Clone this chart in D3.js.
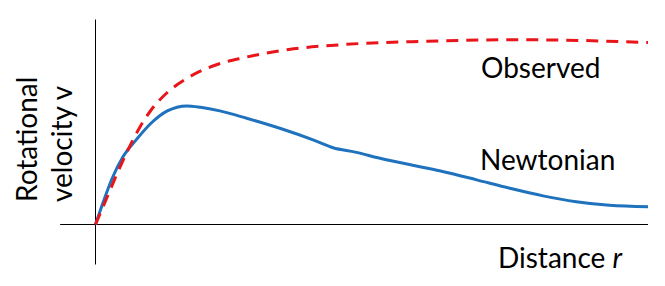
<!DOCTYPE html>
<html>
<head>
<meta charset="utf-8">
<script src="https://cdn.jsdelivr.net/npm/d3@7"></script>
<style>
  body { margin: 0; background: #fff; }
  svg { display: block; }
  text { font-family: Lato, "Open Sans", sans-serif; fill: #000; }
</style>
</head>
<body>
<div id="canvas"></div>
<script>
"use strict";

/* Data: distance r (0..100) and velocity v (0..100) */
let observedR = [0, 2, 4, 6, 8, 10, 13, 16.5, 21, 27, 35, 45, 60, 75, 88, 100];
let observedV = [0, 13, 26, 38, 48.5, 57, 66, 73, 79, 83.5, 87.5, 90, 91.6, 92.4, 92, 91];

let newtonR = [0, 1.5, 3, 5, 7.5, 10, 13, 16.5, 19, 22.5, 27.5, 33.5, 39.5, 43, 47, 51.5, 58.5, 63, 69, 75, 81, 87, 93, 100];
let newtonV = [0, 12, 23, 34, 42.8, 50.5, 56.8, 59.3, 58.6, 56.8, 53, 48, 42.2, 38.4, 36.2, 33.1, 29, 26.4, 22.3, 18.1, 14.3, 11.4, 9.6, 8.9];

let seriesLabels = ["Observed", "Newtonian"];
let axisLabelX = "Distance ";
let axisLabelXVar = "r";
let axisLabelY = ["Rotational", "velocity v"];

/* Drawing config */
let svgWidth = 665;
let svgHeight = 286;

let svg = d3.select("#canvas")
  .append("svg")
  .attr("width", svgWidth)
  .attr("height", svgHeight);

let xScale = d3.scaleLinear()
  .domain([0, 100])
  .range([95.5, 648]);

let yScale = d3.scaleLinear()
  .domain([0, 100])
  .range([224.5, 24.5]);

/* Axis lines (extend a bit past the origin like the slide) */
svg.append("line")
  .attr("x1", xScale(-6.4))
  .attr("x2", xScale(100))
  .attr("y1", yScale(0))
  .attr("y2", yScale(0))
  .attr("stroke", "#000")
  .attr("stroke-width", 1);

svg.append("line")
  .attr("x1", xScale(0))
  .attr("x2", xScale(0))
  .attr("y1", yScale(-20))
  .attr("y2", yScale(102.5))
  .attr("stroke", "#000")
  .attr("stroke-width", 1);

/* Curves */
let line = d3.line()
  .x(function (d) { return xScale(d[0]); })
  .y(function (d) { return yScale(d[1]); })
  .curve(d3.curveMonotoneX);

let newtonData = d3.zip(newtonR, newtonV);
let observedData = d3.zip(observedR, observedV);

svg.append("path")
  .datum(newtonData)
  .attr("d", line)
  .attr("fill", "none")
  .attr("stroke", "#1f72bd")
  .attr("stroke-width", 3);

svg.append("path")
  .datum(observedData)
  .attr("d", line)
  .attr("fill", "none")
  .attr("stroke", "#e8151b")
  .attr("stroke-width", 3)
  .attr("stroke-dasharray", "12,8");

/* Series labels */
svg.append("text")
  .attr("x", 481)
  .attr("y", 78)
  .attr("font-size", "28px")
  .text(seriesLabels[0]);

svg.append("text")
  .attr("x", 480)
  .attr("y", 170)
  .attr("font-size", "28px")
  .text(seriesLabels[1]);

/* X axis label */
let xLabel = svg.append("text")
  .attr("x", 498)
  .attr("y", 268)
  .attr("font-size", "28px")
  .text(axisLabelX);
xLabel.append("tspan")
  .attr("font-style", "italic")
  .text(axisLabelXVar);

/* Y axis label, two rotated lines */
for (let i = 0; i < axisLabelY.length; i = i + 1) {
  svg.append("text")
    .attr("transform", "translate(" + (37 + i * 35) + ",202) rotate(-90)")
    .attr("font-size", "28px")
    .text(axisLabelY[i]);
}
</script>
</body>
</html>
